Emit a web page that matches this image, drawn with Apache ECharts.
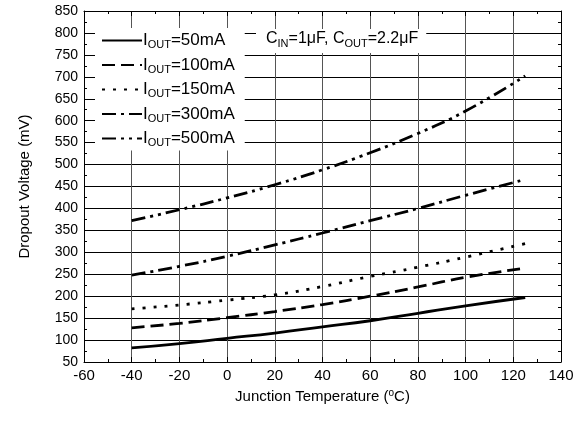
<!DOCTYPE html>
<html>
<head>
<meta charset="utf-8">
<script src="https://cdn.jsdelivr.net/npm/echarts@6/dist/echarts.min.js"></script>
<style>
  html, body { margin: 0; padding: 0; background: #fff; }
  #chart { width: 584px; height: 423px; }
</style>
</head>
<body>
<div id="chart"></div>
<script>
// temperature points (degC)
const temps = [-40, -20, 0, 20, 40, 60, 80, 100, 125];
// dropout voltage (mV) per load current
const i50 = [82, 92, 104, 116, 130, 144, 161, 178, 197];
const i100 = [128, 138, 151, 165, 181, 200, 221, 243, 264];
const i150 = [171, 180, 191, 203, 222, 245, 266, 289, 320];
const i300 = [248, 268, 291, 317, 344, 372, 400, 430, 466];
const i500 = [372, 397, 424, 454, 488, 527, 571, 622, 702];

const names = ['50mA', '100mA', '150mA', '300mA', '500mA'];
const dashes = ['solid', [13, 6], [3, 8], [14, 5, 3, 5], [14, 5, 3, 5, 3, 5]];
const values = [i50, i100, i150, i300, i500];

const font = 'Liberation Sans, Arial, sans-serif';

const chart = echarts.init(document.getElementById('chart'));

const series = values.map((v, n) => ({
  name: names[n],
  type: 'line',
  smooth: true,
  symbol: 'none',
  data: temps.map((t, k) => [t, v[k]]),
  lineStyle: { color: '#000', width: 2.8, type: dashes[n] },
  itemStyle: { color: '#000' },
  z: 5
}));

// frame axis (top / right), ticks only
function frameTicks() {
  return {
    axisLine: { onZero: false, lineStyle: { color: '#000', width: 1 } },
    axisTick: { inside: true, length: 5, lineStyle: { color: '#000' } },
    minorTick: { show: true, splitNumber: 2, length: 3, lineStyle: { color: '#000' } }
  };
}

chart.setOption({
  animation: false,
  backgroundColor: '#fff',
  textStyle: { fontFamily: font },
  grid: { left: 84, right: 23, top: 11, bottom: 61 },
  title: {
    text: 'C{sub|IN}=1\u03bcF, C{sub|OUT}=2.2\u03bcF',
    left: 256,
    top: 27,
    padding: [2, 8, 4, 10],
    backgroundColor: '#fff',
    textStyle: {
      fontFamily: font,
      fontSize: 16,
      fontWeight: 'normal',
      color: '#000',
      rich: { sub: { fontSize: 11, padding: [9, 0, 0, 0], fontFamily: font } }
    },
    z: 10
  },
  legend: {
    orient: 'vertical',
    left: 95,
    top: 28,
    backgroundColor: '#fff',
    padding: [4, 10, 2, 6],
    itemWidth: 40,
    itemHeight: 12,
    itemGap: 6,
    data: names,
    itemStyle: { opacity: 0, borderWidth: 0 },
    formatter: (name) => 'I{sub|OUT}=' + name,
    textStyle: {
      fontFamily: font,
      fontSize: 17,
      color: '#000',
      padding: [0, 0, 0, -4],
      rich: { sub: { fontSize: 11, padding: [9, 0, 0, 0], fontFamily: font } }
    },
    z: 10
  },
  xAxis: [Object.assign(frameTicks(), {
    type: 'value',
    min: -60,
    max: 140,
    interval: 20,
    name: 'Junction Temperature ({sup|o}C)',
    nameLocation: 'middle',
    nameGap: 25,
    nameTextStyle: {
      fontFamily: font,
      fontSize: 15,
      color: '#000',
      rich: { sup: { fontSize: 10, padding: [0, 0, 8, 0], fontFamily: font } }
    },
    axisLabel: { fontFamily: font, fontSize: 15, color: '#000', margin: 6 },
    splitLine: { show: true, lineStyle: { color: '#555', width: 1 } }
  }), Object.assign(frameTicks(), {
    type: 'value',
    position: 'top',
    min: -60,
    max: 140,
    interval: 20,
    axisLabel: { show: false },
    splitLine: { show: false }
  })],
  yAxis: [Object.assign(frameTicks(), {
    type: 'value',
    min: 50,
    max: 850,
    interval: 50,
    name: 'Dropout Voltage (mV)',
    nameLocation: 'middle',
    nameGap: 52,
    nameTextStyle: { fontFamily: font, fontSize: 15, color: '#000' },
    axisLabel: { fontFamily: font, fontSize: 14, color: '#000', margin: 6 },
    splitLine: { show: true, lineStyle: { color: '#000', width: 1 } }
  }), Object.assign(frameTicks(), {
    type: 'value',
    position: 'right',
    min: 50,
    max: 850,
    interval: 50,
    axisLabel: { show: false },
    splitLine: { show: false }
  })],
  series: series
});
</script>
</body>
</html>
